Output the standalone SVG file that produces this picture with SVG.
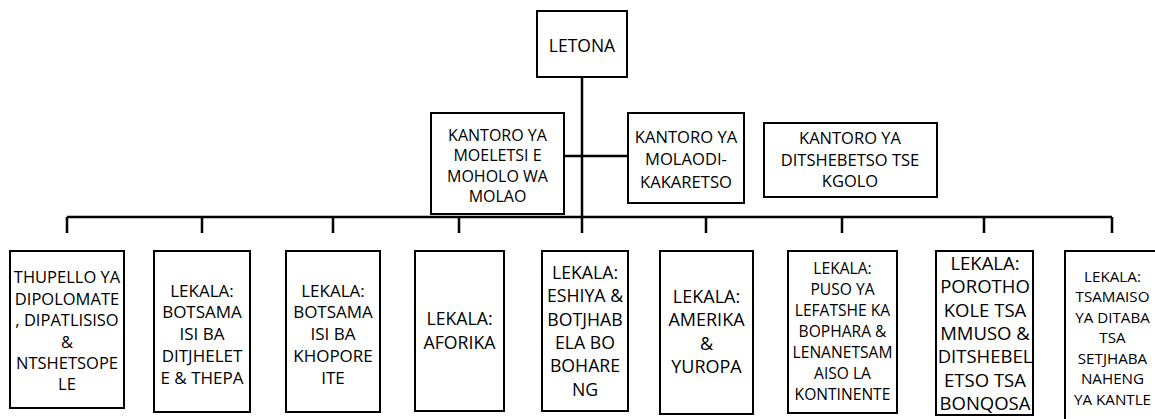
<svg xmlns="http://www.w3.org/2000/svg" width="1155" height="419" viewBox="0 0 1155 419">
<style>
.box{fill:#fff;stroke:#000;stroke-width:2}
.ln{stroke:#000;stroke-width:2.5;fill:none}
text{font-family:"Open Sans","Noto Sans",sans-serif;fill:#000;text-anchor:middle}
</style>
<rect width="1155" height="419" fill="#fff"/>
<g id="connectors">
<path class="ln" d="M582,77 V233 M564,156 H628 M67,217 H1112 M67,217 V233 M202,217 V233 M333,217 V233 M459,217 V233 M706,217 V233 M842,217 V233 M984,217 V233 M1112,217 V233"/>
</g>
<g id="letona"><rect class="box" x="537" y="11" width="90" height="66"/>
<text x="582" y="52" font-size="17.5">LETONA</text></g>
<g id="moeletsi"><rect class="box" x="431" y="113" width="133" height="101"/>
<text x="497.5" font-size="16"><tspan x="497.5" y="141">KANTORO YA</tspan><tspan x="497.5" y="161">MOELETSI E</tspan><tspan x="497.5" y="181.5">MOHOLO WA</tspan><tspan x="497.5" y="201.5">MOLAO</tspan></text></g>
<g id="molaodi"><rect class="box" x="628" y="113" width="116" height="90"/>
<text font-size="16.6"><tspan x="686" y="142.5">KANTORO YA</tspan><tspan x="686" y="165">MOLAODI-</tspan><tspan x="686" y="187.5">KAKARETSO</tspan></text></g>
<g id="ditshebetso"><rect class="box" x="764" y="123" width="173" height="74"/>
<text font-size="16.5"><tspan x="850" y="144">KANTORO YA</tspan><tspan x="850" y="165.5">DITSHEBETSO TSE</tspan><tspan x="850" y="187">KGOLO</tspan></text></g>
<g id="thupello"><rect class="box" x="10" y="251" width="114" height="157"/>
<text font-size="16.5"><tspan x="67" y="283">THUPELLO YA</tspan><tspan x="67" y="304.5">DIPOLOMATE</tspan><tspan x="67" y="326">, DIPATLISISO</tspan><tspan x="67" y="347.5">&amp;</tspan><tspan x="67" y="369">NTSHETSOPE</tspan><tspan x="67" y="390">LE</tspan></text></g>
<g id="ditjhelete"><rect class="box" x="154" y="251" width="96" height="161"/>
<text font-size="17"><tspan x="202" y="296.5">LEKALA:</tspan><tspan x="202" y="318.3">BOTSAMA</tspan><tspan x="202" y="340.1">ISI BA</tspan><tspan x="202" y="361.9">DITJHELET</tspan><tspan x="202" y="383.7">E &amp; THEPA</tspan></text></g>
<g id="khoporeite"><rect class="box" x="286" y="251" width="94" height="161"/>
<text font-size="17"><tspan x="333" y="296.5">LEKALA:</tspan><tspan x="333" y="318.3">BOTSAMA</tspan><tspan x="333" y="340.1">ISI BA</tspan><tspan x="333" y="361.9">KHOPORE</tspan><tspan x="333" y="383.7">ITE</tspan></text></g>
<g id="aforika"><rect class="box" x="415" y="251" width="89" height="160"/>
<text font-size="17.7"><tspan x="459.5" y="325">LEKALA:</tspan><tspan x="459.5" y="348.5">AFORIKA</tspan></text></g>
<g id="eshiya"><rect class="box" x="542" y="251" width="86" height="160"/>
<text font-size="17.7"><tspan x="585" y="279">LEKALA:</tspan><tspan x="585" y="302.3">ESHIYA &amp;</tspan><tspan x="585" y="325.6">BOTJHAB</tspan><tspan x="585" y="348.9">ELA BO</tspan><tspan x="585" y="372.2">BOHARE</tspan><tspan x="585" y="395.5">NG</tspan></text></g>
<g id="amerika"><rect class="box" x="660" y="251" width="93" height="163"/>
<text font-size="18"><tspan x="706.5" y="303">LEKALA:</tspan><tspan x="706.5" y="326.3">AMERIKA</tspan><tspan x="706.5" y="349.6">&amp;</tspan><tspan x="706.5" y="372.9">YUROPA</tspan></text></g>
<g id="puso"><rect class="box" x="788" y="251" width="109" height="162"/>
<text font-size="15.6"><tspan x="842.5" y="274">LEKALA:</tspan><tspan x="842.5" y="295">PUSO YA</tspan><tspan x="842.5" y="316">LEFATSHE KA</tspan><tspan x="842.5" y="337">BOPHARA &amp;</tspan><tspan x="842.5" y="358">LENANETSAM</tspan><tspan x="842.5" y="379">AISO LA</tspan><tspan x="842.5" y="400">KONTINENTE</tspan></text></g>
<g id="porothokole"><rect class="box" x="936" y="251" width="97" height="164"/>
<text font-size="18.5"><tspan x="985" y="270">LEKALA:</tspan><tspan x="985" y="293.3">POROTHO</tspan><tspan x="985" y="316.6">KOLE TSA</tspan><tspan x="985" y="339.9">MMUSO &amp;</tspan><tspan x="985" y="363.2">DITSHEBEL</tspan><tspan x="985" y="386.5">ETSO TSA</tspan><tspan x="985" y="409.8">BONQOSA</tspan></text></g>
<g id="tsamaiso"><rect class="box" x="1065" y="251" width="110" height="190"/>
<text font-size="15.2"><tspan x="1112.5" y="281.5">LEKALA:</tspan><tspan x="1112.5" y="302">TSAMAISO</tspan><tspan x="1112.5" y="322.5">YA DITABA</tspan><tspan x="1112.5" y="343">TSA</tspan><tspan x="1112.5" y="363.5">SETJHABA</tspan><tspan x="1112.5" y="384">NAHENG</tspan><tspan x="1112.5" y="404.5">YA KANTLE</tspan></text></g>
</svg>
